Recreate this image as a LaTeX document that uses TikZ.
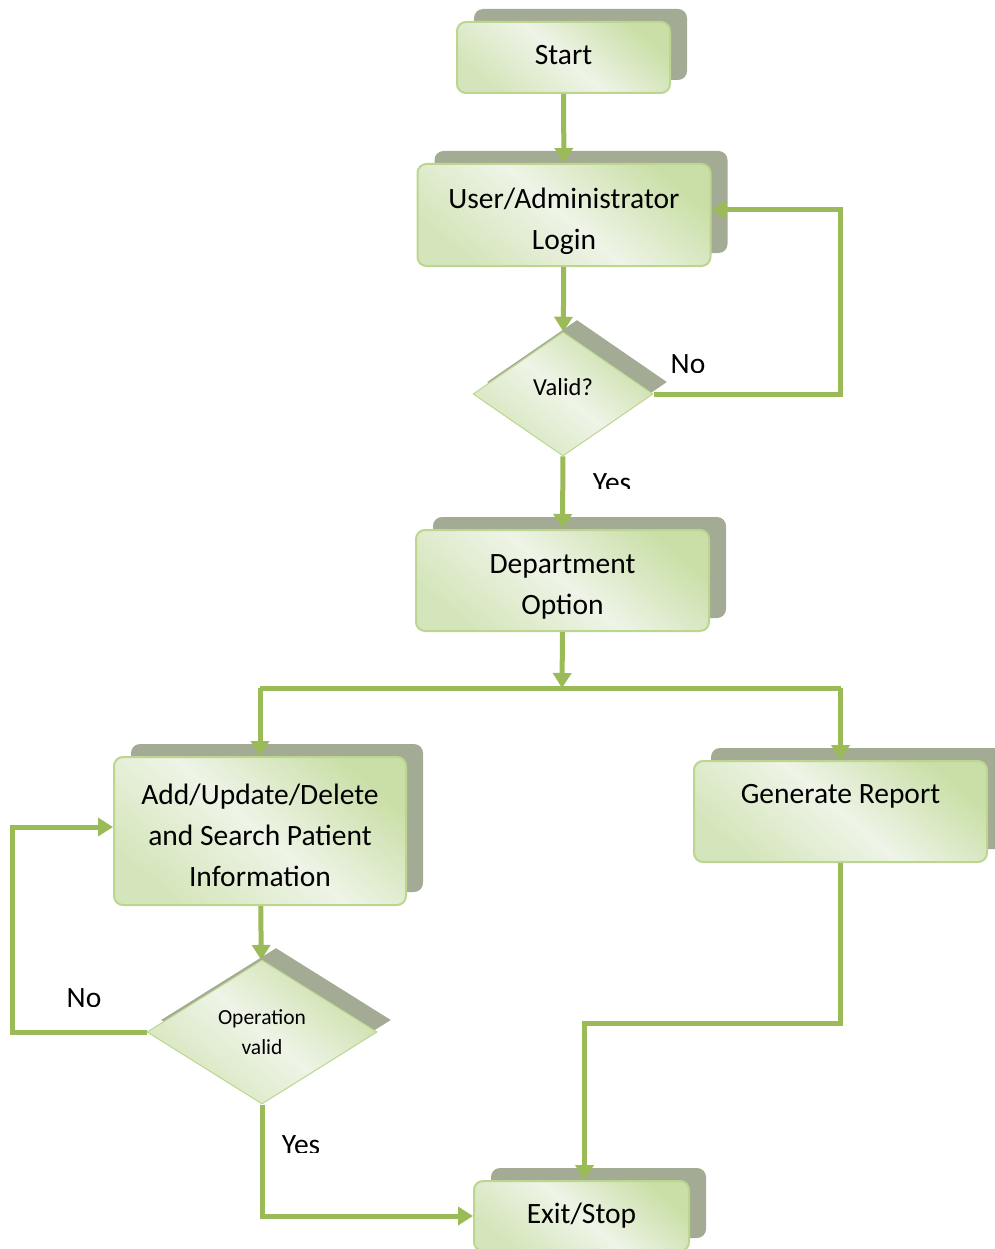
\documentclass[tikz,border=0pt]{standalone}
\usepackage{fontspec}
\setmainfont{Carlito}
\usetikzlibrary{arrows.meta,shapes.geometric,shadows,calc}
\definecolor{flowgreen}{HTML}{9BBB59}
\definecolor{boxedge}{HTML}{BCD68F}
\definecolor{boxshadow}{HTML}{A4AB94}
\definecolor{boxlight}{HTML}{EEF4E7}
\definecolor{boxdark}{HTML}{CADFA8}
\begin{document}
\begin{tikzpicture}[x=1pt,y=-1pt,
  every node/.style={font=\fontsize{29.5}{41}\selectfont},
  greenfill/.style={top color=boxdark, bottom color=boxdark!70!boxlight, middle color=boxlight,
    shading angle=-40},
  procbox/.style={rectangle, rounded corners=9pt, draw=boxedge, line width=2pt,
    greenfill, align=center,
    general shadow={shadow xshift=17pt, shadow yshift=13pt, fill=boxshadow}},
  decision/.style={diamond, draw=boxedge, line width=1pt, inner sep=0pt,
    greenfill, align=center,
    general shadow={shadow xshift=14pt, shadow yshift=12pt, fill=boxshadow}},
  inside/.style={label={[align=center, yshift=#1]center:{\boxtext}}},
  flow/.style={draw=flowgreen, line width=5pt},
  flowarrow/.style={flow, -{Triangle[width=18pt,length=15pt]}},
  answer/.style={inner sep=0pt, anchor=base}]
\useasboundingbox (0,0) rectangle (994,1249);

% process boxes and decisions; the captions are set as centred labels
\def\boxtext{Start}
\node[procbox, minimum width=213pt, minimum height=71pt, inside=2pt] (start) at (563.5,57.5) {};
\def\boxtext{User/Administrator\\Login}
\node[procbox, minimum width=293pt, minimum height=102pt, inside=-6pt] (login) at (564,215) {};
\node[decision, minimum width=180pt, minimum height=124pt,
  font=\fontsize{24.5}{30}\selectfont] (valid) at (563,394) {\raisebox{15pt}{Valid?}};
\def\boxtext{Department\\Option}
\node[procbox, minimum width=293pt, minimum height=101pt, inside=-6pt] (dept) at (562.5,580.5) {};
\def\boxtext{Add/Update/Delete\\and Search Patient\\Information}
\node[procbox, minimum width=292pt, minimum height=148pt, inside=-4pt] (add) at (260,831) {};
\def\boxtext{Generate Report}
\node[procbox, minimum width=293pt, minimum height=101pt, inside=15pt] (gen) at (840.5,811.5) {};
\node[decision, minimum width=230pt, minimum height=144pt,
  font=\fontsize{21.5}{30}\selectfont] (opv) at (262,1032) {Operation\\valid};
\def\boxtext{Exit/Stop}
\node[procbox, minimum width=215pt, minimum height=70pt, inside=0pt] (exit) at (581.5,1216) {};

% connectors
\draw[flowarrow] (start) -- (login);
\draw[flowarrow] (login) -- (valid);
\draw[flowarrow] (valid.east) -- ++(187,0) |- ([yshift=5pt]login.east);
\draw[flowarrow] (valid) -- (dept);
\coordinate (split) at (562,688);
\draw[flowarrow] (dept.south) -- (split);
\draw[flow] (add.north |- split) -- (gen.north |- split);
\draw[flowarrow] (add.north |- split) -- (add.north);
\draw[flowarrow] (gen.north |- split) -- (gen.north);
\draw[flowarrow] (add) -- (opv);
\draw[flowarrow] (opv.west) -- ++(-134,0) |- ([yshift=4pt]add.west);
\draw[flowarrow] (opv.south) |- (exit.west);
\draw[flowarrow] (gen.south) -- ++(0,160) -| ([xshift=3pt]exit.north);

% branch labels (their text frames trim the lower edge)
\begin{scope}
  \clip (660,340) rectangle (720,372);
  \node[answer] (noA) at (688,373) {No};
\end{scope}
\begin{scope}
  \clip (585,460) rectangle (645,488);
  \node[answer] (yesA) at (612,492) {Yes};
\end{scope}
\begin{scope}
  \clip (55,975) rectangle (115,1006);
  \node[answer] (noB) at (84,1007) {No};
\end{scope}
\begin{scope}
  \clip (270,1120) rectangle (335,1152);
  \node[answer] (yesB) at (301,1154) {Yes};
\end{scope}
\end{tikzpicture}
\end{document}
